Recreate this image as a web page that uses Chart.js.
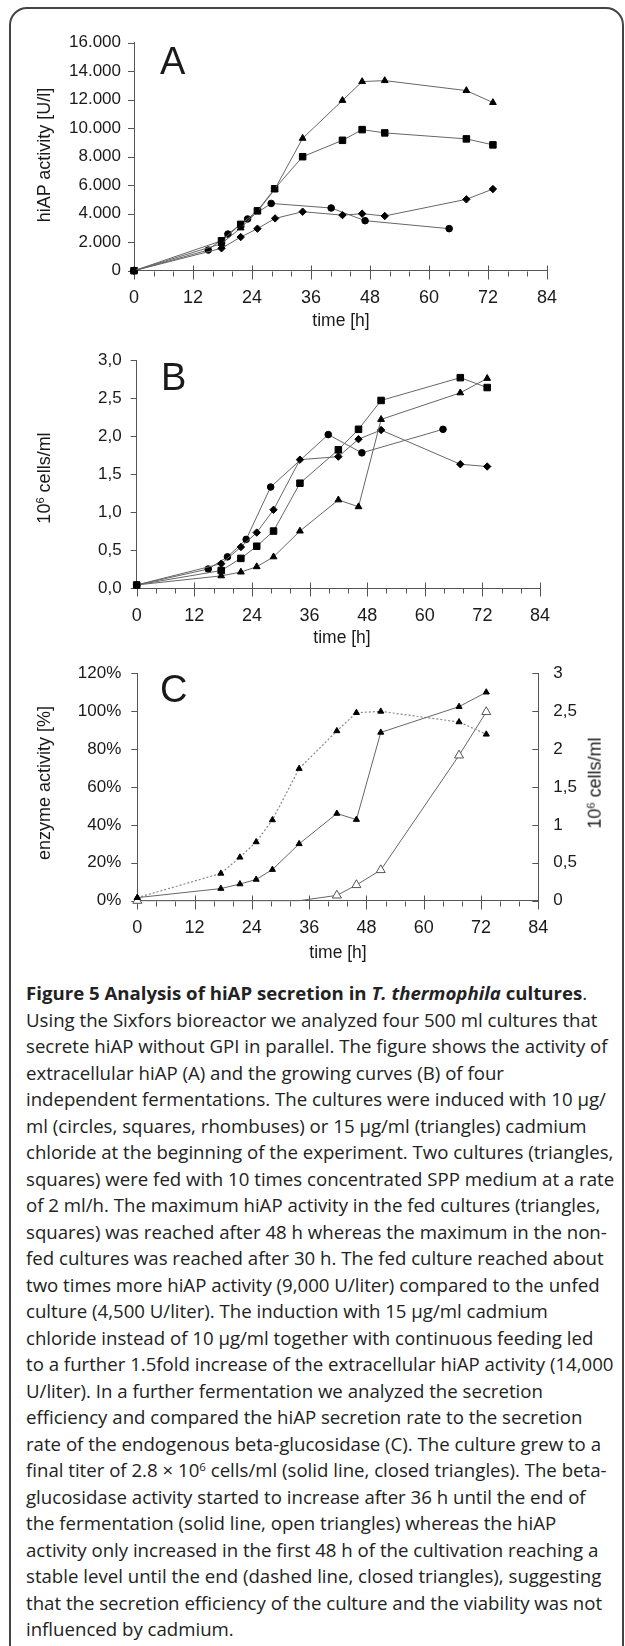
<!DOCTYPE html>
<html><head><meta charset="utf-8">
<script src="https://cdn.jsdelivr.net/npm/chart.js@4.4.0/dist/chart.umd.min.js"></script>
<style>
html,body{margin:0;padding:0;background:#fff;}
body{width:625px;height:1646px;position:relative;overflow:hidden;}
.frame{position:absolute;left:9px;top:7px;width:615px;height:1720px;border:2px solid #444;border-radius:18px;box-sizing:border-box;}
canvas{position:absolute;left:0;}
.t{position:absolute;font-family:"Liberation Sans",Arial,sans-serif;color:#1a1a1a;white-space:nowrap;line-height:1.15;}
.letter{font-size:38px;line-height:38px;}
.yt{font-size:18px;transform:translate(-50%,-50%) rotate(-90deg);}
.xt{font-size:17.5px;transform:translate(-50%,-50%);}
sup{font-size:0.62em;line-height:0;vertical-align:0.55em;}
#cap{position:absolute;left:26px;top:980px;font-family:"Open Sans",sans-serif;color:#222;line-height:26.5px;font-size:16px;}
#cap .ln{white-space:nowrap;height:26.5px;}
#cap .ln span{display:inline-block;}
</style>
</head><body>
<div class="frame"></div>
<canvas id="cA" width="625" height="335" style="top:0px;width:625px;height:335px"></canvas>
<canvas id="cB" width="625" height="310" style="top:335px;width:625px;height:310px"></canvas>
<canvas id="cC" width="625" height="320" style="top:645px;width:625px;height:320px"></canvas>

<div class="t letter" style="left:160px;top:42px">A</div>
<div class="t letter" style="left:161px;top:358px">B</div>
<div class="t letter" style="left:160px;top:670px">C</div>

<div class="t yt" style="left:44px;top:155px">hiAP activity [U/l]</div>
<div class="t xt" style="left:341px;top:320px">time [h]</div>
<div class="t yt" style="left:44px;top:478px">10<sup>6</sup> cells/ml</div>
<div class="t xt" style="left:342px;top:637px">time [h]</div>
<div class="t yt" style="left:44px;top:783px">enzyme activity [%]</div>
<div class="t yt" style="left:595px;top:783px">10<sup>6</sup> cells/ml</div>
<div class="t xt" style="left:338px;top:952px">time [h]</div>

<div id="cap">
<div class="ln"><span><b>Figure 5 Analysis of hiAP secretion in <i>T. thermophila</i> cultures</b>.</span></div>
<div class="ln"><span>Using the Sixfors bioreactor we analyzed four 500 ml cultures that</span></div>
<div class="ln"><span>secrete hiAP without GPI in parallel. The figure shows the activity of</span></div>
<div class="ln"><span>extracellular hiAP (A) and the growing curves (B) of four</span></div>
<div class="ln"><span>independent fermentations. The cultures were induced with 10 μg/</span></div>
<div class="ln"><span>ml (circles, squares, rhombuses) or 15 μg/ml (triangles) cadmium</span></div>
<div class="ln"><span>chloride at the beginning of the experiment. Two cultures (triangles,</span></div>
<div class="ln"><span>squares) were fed with 10 times concentrated SPP medium at a rate</span></div>
<div class="ln"><span>of 2 ml/h. The maximum hiAP activity in the fed cultures (triangles,</span></div>
<div class="ln"><span>squares) was reached after 48 h whereas the maximum in the non-</span></div>
<div class="ln"><span>fed cultures was reached after 30 h. The fed culture reached about</span></div>
<div class="ln"><span>two times more hiAP activity (9,000 U/liter) compared to the unfed</span></div>
<div class="ln"><span>culture (4,500 U/liter). The induction with 15 μg/ml cadmium</span></div>
<div class="ln"><span>chloride instead of 10 μg/ml together with continuous feeding led</span></div>
<div class="ln"><span>to a further 1.5fold increase of the extracellular hiAP activity (14,000</span></div>
<div class="ln"><span>U/liter). In a further fermentation we analyzed the secretion</span></div>
<div class="ln"><span>efficiency and compared the hiAP secretion rate to the secretion</span></div>
<div class="ln"><span>rate of the endogenous beta-glucosidase (C). The culture grew to a</span></div>
<div class="ln"><span>final titer of 2.8 × 10<sup>6</sup> cells/ml (solid line, closed triangles). The beta-</span></div>
<div class="ln"><span>glucosidase activity started to increase after 36 h until the end of</span></div>
<div class="ln"><span>the fermentation (solid line, open triangles) whereas the hiAP</span></div>
<div class="ln"><span>activity only increased in the first 48 h of the cultivation reaching a</span></div>
<div class="ln"><span>stable level until the end (dashed line, closed triangles), suggesting</span></div>
<div class="ln"><span>that the secretion efficiency of the culture and the viability was not</span></div>
<div class="ln"><span>influenced by cadmium.</span></div>
</div>

<script>
// ---------- tick values and labels ----------
const xMajorTicks = [0, 12, 24, 36, 48, 60, 72, 84];
const xTickLabels = ['0', '12', '24', '36', '48', '60', '72', '84'];
const xMinorTicks = [4, 8, 16, 20, 28, 32, 40, 44, 52, 56, 64, 68, 76, 80];

const yTickValsA = [0, 2000, 4000, 6000, 8000, 10000, 12000, 14000, 16000];
const yTickLabelsA = ['0', '2.000', '4.000', '6.000', '8.000', '10.000', '12.000', '14.000', '16.000'];
const yTickValsB = [0, 0.5, 1, 1.5, 2, 2.5, 3];
const yTickLabelsB = ['0,0', '0,5', '1,0', '1,5', '2,0', '2,5', '3,0'];
const yTickValsC = [0, 20, 40, 60, 80, 100, 120];
const yTickLabelsC = ['0%', '20%', '40%', '60%', '80%', '100%', '120%'];
const y2TickValsC = [0, 0.5, 1, 1.5, 2, 2.5, 3];
const y2TickLabelsC = ['0', '0,5', '1', '1,5', '2', '2,5', '3'];

// ---------- Panel A: hiAP activity [U/l] ----------
const timeA_triangles = [0, 17.8, 21.7, 25.1, 28.6, 34.3, 42.4, 46.4, 51.0, 67.6, 73.0];
const actA_triangles  = [0, 1900, 3000, 4150, 5700, 9290, 11950, 13270, 13340, 12640, 11800];
const timeA_squares   = [0, 17.8, 21.7, 25.1, 28.6, 34.3, 42.4, 46.4, 51.0, 67.6, 73.0];
const actA_squares    = [0, 2100, 3250, 4200, 5750, 8000, 9150, 9900, 9670, 9250, 8830];
const timeA_rhombi    = [0, 17.8, 21.7, 25.1, 28.7, 34.3, 42.4, 46.4, 51.0, 67.6, 73.0];
const actA_rhombi     = [0, 1570, 2360, 2950, 3670, 4140, 3900, 4000, 3840, 5010, 5730];
const timeA_circles   = [0, 15.1, 19.1, 23.1, 27.9, 40.1, 47.0, 64.1];
const actA_circles    = [0, 1450, 2570, 3630, 4720, 4400, 3510, 2950];

// ---------- Panel B: 10^6 cells/ml ----------
const timeB_circles    = [0, 14.9, 18.9, 22.8, 27.9, 39.9, 46.9, 63.8];
const cellsB_circles   = [0.04, 0.25, 0.41, 0.64, 1.33, 2.02, 1.78, 2.09];
const timeB            = [0, 17.6, 21.7, 25.0, 28.5, 34.0, 42.0, 46.2, 50.9, 67.4, 73.0];
const cellsB_rhombi    = [0.04, 0.32, 0.54, 0.73, 1.03, 1.69, 1.73, 1.96, 2.08, 1.63, 1.60];
const cellsB_squares   = [0.04, 0.23, 0.39, 0.55, 0.75, 1.38, 1.82, 2.09, 2.47, 2.77, 2.64];
const cellsB_triangles = [0.04, 0.16, 0.21, 0.28, 0.41, 0.75, 1.16, 1.07, 2.22, 2.57, 2.76];

// ---------- Panel C ----------
const timeC      = [0, 17.5, 21.5, 24.9, 28.3, 33.9, 41.8, 45.9, 51.0, 67.4, 73.1];
const hiapC      = [1.6, 14.4, 22.9, 31.0, 42.6, 69.7, 89.6, 99.2, 99.9, 94.3, 87.8];   // % (dashed)
const cellsC     = [0.04, 0.16, 0.22, 0.28, 0.41, 0.75, 1.15, 1.07, 2.22, 2.56, 2.75]; // 10^6 cells/ml
const timeC_gluc = [0, 33.9, 41.8, 45.9, 51.0, 67.4, 73.1];
const glucC      = [0, 0, 2.8, 8.3, 16.2, 76.7, 99.6];                                  // % (open)

const AXIS = '#555', LINE = '#666', TEXT = '#1a1a1a', FONT = '"Liberation Sans", Arial, sans-serif';

const tickMarks = {
  id: 'tickMarks',
  beforeDatasetsDraw(chart) {
    const ctx = chart.ctx, ca = chart.chartArea, xs = chart.scales.x;
    ctx.save();
    ctx.strokeStyle = AXIS; ctx.lineWidth = 1;
    ctx.beginPath();
    const yb = Math.round(ca.bottom) + 0.5;
    xMinorTicks.forEach(v => { const px = Math.round(xs.getPixelForValue(v)) + 0.5; ctx.moveTo(px, yb); ctx.lineTo(px, yb + 5); });
    xMajorTicks.forEach(v => { const px = Math.round(xs.getPixelForValue(v)) + 0.5; ctx.moveTo(px, yb - 6); ctx.lineTo(px, yb + 8); });
    const ys = chart.scales.y;
    ys.ticks.forEach(t => { const py = Math.round(ys.getPixelForValue(t.value)) + 0.5; ctx.moveTo(ca.left - 6, py); ctx.lineTo(ca.left, py); });
    if (chart.scales.y2) {
      const y2 = chart.scales.y2;
      y2.ticks.forEach(t => { const py = Math.round(y2.getPixelForValue(t.value)) + 0.5; ctx.moveTo(ca.right - 6, py); ctx.lineTo(ca.right, py); });
    }
    ctx.stroke();
    ctx.restore();
  }
};

function series(xs, ys, style) {
  return Object.assign({
    data: xs.map((x, i) => ({x: x, y: ys[i]})),
    showLine: true, tension: 0, clip: false,
    borderColor: LINE, borderWidth: 1,
    pointBackgroundColor: '#000', pointBorderColor: '#000', pointBorderWidth: 1
  }, style);
}

function yAxis(p) {
  return {
    type: 'linear', position: p.position || 'left', min: p.min, max: p.max,
    afterBuildTicks: s => { s.ticks = p.vals.map(v => ({value: v})); },
    afterFit: s => { s.width = p.w; },
    grid: {display: false, drawTicks: false},
    border: {display: true, color: AXIS, width: 1},
    ticks: {padding: p.pad, color: TEXT, font: {family: FONT, size: 17}, callback: (v, i) => p.labels[i]}
  };
}

function opts(p) {
  const scales = {
    x: {
      type: 'linear', min: 0, max: 84,
      afterBuildTicks: s => { s.ticks = xMajorTicks.map(v => ({value: v})); },
      afterFit: s => { s.height = p.xh; },
      grid: {display: false, drawTicks: false},
      border: {display: true, color: AXIS, width: 1},
      ticks: {padding: p.xpad, color: TEXT, autoSkip: false, maxRotation: 0, font: {family: FONT, size: 18},
              callback: (v, i) => xTickLabels[i]}
    },
    y: yAxis(p.y)
  };
  if (p.y2) scales.y2 = yAxis(p.y2);
  return {
    responsive: false, animation: false, devicePixelRatio: 1,
    layout: {padding: {left: 0, top: p.top, right: p.right, bottom: 0}},
    plugins: {legend: {display: false}, tooltip: {enabled: false}},
    scales: scales
  };
}

const TRI = {pointStyle: 'triangle', pointRadius: 3.9};
const SQR = {pointStyle: 'rect', pointRadius: 4.6};
const CIR = {pointStyle: 'circle', pointRadius: 3.3};
const RHO = {pointStyle: 'rectRot', pointRadius: 3.7};

new Chart(document.getElementById('cA'), {
  type: 'line',
  data: {datasets: [
    series(timeA_triangles, actA_triangles, TRI),
    series(timeA_squares, actA_squares, SQR),
    series(timeA_rhombi, actA_rhombi, RHO),
    series(timeA_circles, actA_circles, CIR)
  ]},
  options: opts({top: 42.7, right: 78, xh: 64.3, xpad: 16.5,
    y: {min: 0, max: 16000, vals: yTickValsA, labels: yTickLabelsA, w: 134, pad: 13}}),
  plugins: [tickMarks]
});

new Chart(document.getElementById('cB'), {
  type: 'line',
  data: {datasets: [
    series(timeB, cellsB_squares, SQR),
    series(timeB, cellsB_triangles, TRI),
    series(timeB, cellsB_rhombi, RHO),
    series(timeB_circles, cellsB_circles, CIR)
  ]},
  options: opts({top: 25, right: 85, xh: 57, xpad: 17.5,
    y: {min: 0, max: 3, vals: yTickValsB, labels: yTickLabelsB, w: 136.7, pad: 15}}),
  plugins: [tickMarks]
});

new Chart(document.getElementById('cC'), {
  type: 'line',
  data: {datasets: [
    series(timeC, cellsC, Object.assign({yAxisID: 'y2'}, TRI, {pointRadius: 3.5})),
    series(timeC, hiapC, Object.assign({yAxisID: 'y', borderDash: [2, 2], borderColor: '#888', borderWidth: 1.2}, TRI, {pointRadius: 3.5})),
    series(timeC_gluc, glucC, {yAxisID: 'y', pointStyle: 'triangle', pointRadius: [5.2, 0, 5.2, 5.2, 5.2, 5.2, 5.2],
      pointBackgroundColor: '#fff', pointBorderColor: '#555', borderColor: '#666'})
  ]},
  options: opts({top: 28.3, right: 0, xh: 64.3, xpad: 16.8,
    y: {min: 0, max: 120, vals: yTickValsC, labels: yTickLabelsC, w: 137.3, pad: 16},
    y2: {position: 'right', min: 0, max: 3, vals: y2TickValsC, labels: y2TickLabelsC, w: 86.7, pad: 15}}),
  plugins: [tickMarks]
});

// fit caption font size so the second line spans the reference width
function fitCaption() {
  const cap = document.getElementById('cap');
  cap.style.fontSize = '16px';
  const ref = cap.querySelectorAll('.ln span')[1];
  const w = ref.getBoundingClientRect().width;
  if (w > 0) cap.style.fontSize = (16 * 572 / w).toFixed(2) + 'px';
}
fitCaption();
if (document.fonts && document.fonts.ready) document.fonts.ready.then(fitCaption);
</script>
</body></html>
